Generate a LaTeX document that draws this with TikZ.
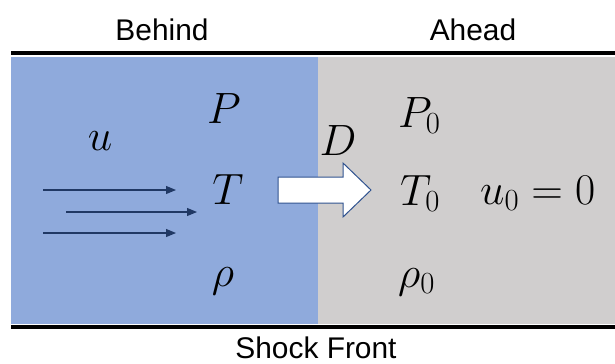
\RequirePackage{fix-cm}
\documentclass[tikz,border=0pt]{standalone}
\usepackage{amsmath,amssymb}
\usepackage{fontspec}
\setmainfont{Liberation Sans}
\usepackage{tikz}
\usetikzlibrary{arrows.meta,positioning,calc}
\definecolor{behindblue}{HTML}{8FAADC}
\definecolor{aheadgray}{HTML}{D0CECE}
\definecolor{flownavy}{HTML}{203864}
\definecolor{arrowedge}{HTML}{2F528F}
\tikzset{
  % rubriker
  lbl/.style={inner sep=0pt,anchor=base,font=\fontsize{30}{36}\selectfont},
  qty/.style={inner sep=0pt,anchor=base,font=\fontsize{44}{50}\selectfont},
  qtyl/.style={qty,anchor=base west},
  % linjer
  wall/.style={draw=black,line width=3.5bp},
  flow/.style={draw=flownavy,line width=1.1bp,
               -{Triangle[length=10bp,width=8bp]}},
  bigarrow/.style={draw=arrowedge,fill=white,line width=1bp,line join=miter},
}
\begin{document}
\begin{tikzpicture}[x=1bp,y=-1bp]
\useasboundingbox (0,0) rectangle (615,363);
  % omraden
  \fill[behindblue] (11,57) rectangle (318,324);
  \fill[aheadgray] (318,57) rectangle (615,324);
  \draw[wall] (11,53) -- (615,53);
  \draw[wall] (11,327) -- (615,327);
  % rubriker
  \node[lbl] (behind) at (162,40) {Behind};
  \node[lbl] (ahead) at (473,40) {Ahead};
  \node[lbl] (shock) at (316,358) {Shock Front};
  % bakom
  \node[qty] (u) at (100,150) {$u$};
  \node[qty] (P) at (224,123) {$P$};
  \node[qty] (T) at (228,204) {$T$};
  \node[qty] (rho) at (223,286) {$\rho$};
  % framfor
  \node[qty] (D) at (338,155) {$D$};
  \node[qtyl] (P0) at (398,127) {$P_0$};
  \node[qtyl] (T0) at (400,205) {$T_0$};
  \node[qtyl] (rho0) at (398,287) {$\rho_0$};
  \node[qtyl] (u0) at (480,204) {$u_0=0$};
  % strommar
  \coordinate (f1) at (43,190);  \coordinate (g1) at (176,190);
  \coordinate (f2) at (66,212);  \coordinate (g2) at (197,212);
  \coordinate (f3) at (43,233);  \coordinate (g3) at (176,233);
  \draw[flow] (f1) -- (g1);
  \draw[flow] (f2) -- (g2);
  \draw[flow] (f3) -- (g3);
  % chockens riktning
  \coordinate (tip) at (371,190);
  \draw[bigarrow] (278,177) -- (343,177) -- (343,163) -- (tip)
    -- (343,217) -- (343,203) -- (278,203) -- cycle;
\end{tikzpicture}
\end{document}
